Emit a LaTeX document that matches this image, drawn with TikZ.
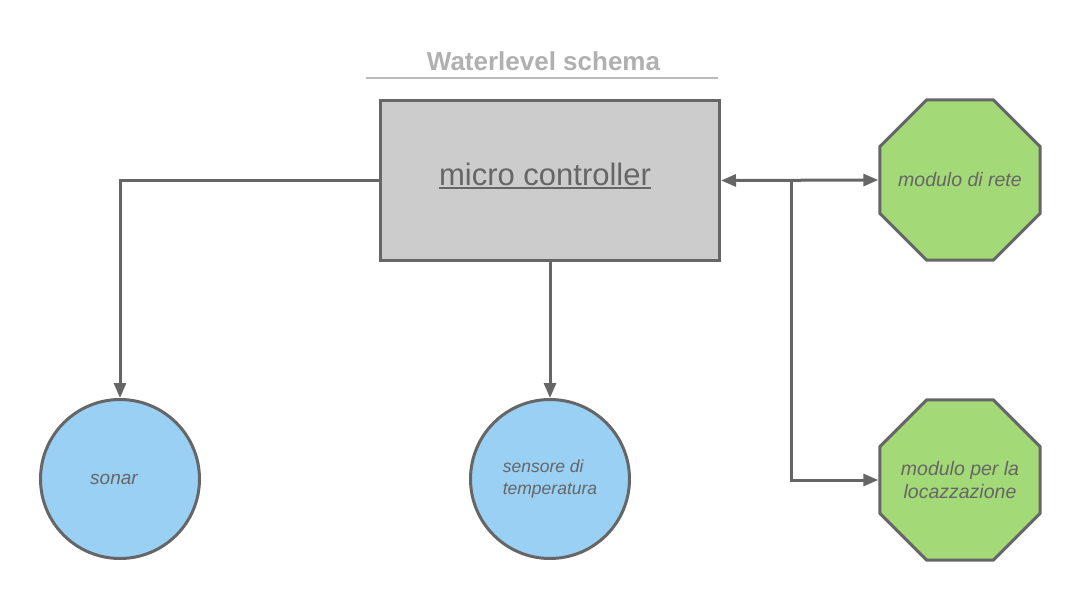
\documentclass[tikz,border=0pt]{standalone}
\usepackage{fontspec}
\setmainfont{Liberation Sans}
\usetikzlibrary{arrows.meta,shapes.geometric}
\definecolor{strokegray}{HTML}{666666}
\definecolor{titlegray}{HTML}{B0B0B0}
\definecolor{boxgray}{HTML}{CCCCCC}
\definecolor{blueish}{HTML}{99D0F3}
\definecolor{greenish}{HTML}{A3D977}
\newcommand\myul[1]{\setbox0\hbox{#1}\rlap{\rule[-3pt]{\wd0}{1.7pt}}\box0}
\newcommand\myoctagon[1]{\draw[octline] (#1) ++(-33.2,-80.2) -- ++(66.4,0) -- ++(47,47) -- ++(0,66.4) -- ++(-47,47) -- ++(-66.4,0) -- ++(-47,-47) -- ++(0,-66.4) -- cycle;}
\tikzset{
  shapeline/.style={draw=strokegray, line width=3pt, text=strokegray, inner sep=0pt},
  ctrlbox/.style={shapeline, rectangle, fill=boxgray, minimum width=339pt, minimum height=160pt},
  sensorc/.style={shapeline, circle, fill=blueish, minimum size=159pt, font=\itshape\fontsize{19}{22}\selectfont},
  octline/.style={draw=strokegray, line width=3pt, fill=greenish, line join=miter},
  modoct/.style={rectangle, inner sep=0pt, minimum size=163pt, text=strokegray, font=\itshape\fontsize{19.5}{23}\selectfont, align=center},
  conn/.style={draw=strokegray, line width=3pt, -{Triangle[length=15pt,width=12pt]}},
  conn2/.style={draw=strokegray, line width=3pt, {Triangle[length=15pt,width=12pt]}-{Triangle[length=15pt,width=12pt]}},
}
\begin{document}
\begin{tikzpicture}[x=1pt,y=-1pt]
\useasboundingbox (0,0) rectangle (1080,600);
\node[font=\bfseries\fontsize{26}{30}\selectfont, text=titlegray] (title) at (543.5,61) {Waterlevel schema};
\draw[draw=titlegray!85, line width=2.8pt] (366,78) -- (718,78);
\node[ctrlbox, font=\fontsize{31}{36}\selectfont] (mc) at (550,180.5) {\hspace*{-10pt}\raisebox{12pt}{\myul{micro controller}}};
\node[sensorc] (sonar) at (120,479) {\hspace*{-12pt}sonar};
\node[sensorc, align=left, font=\itshape\fontsize{17.5}{22}\selectfont] (temp) at (550,479) {sensore di\\temperatura};
\coordinate (netc) at (960,180);
\coordinate (locc) at (960,480);
\myoctagon{netc}
\myoctagon{locc}
\node[modoct] (net) at (netc) {modulo di rete};
\node[modoct] (loc) at (locc) {modulo per la\\locazzazione};
\coordinate (j) at (791,180.5);
\draw[conn] (mc.west) -| (sonar.north);
\draw[conn] (mc.south) -- (temp.north);
\draw[conn2] (mc.east) -- (net.west);
\draw[conn] (j) |- (loc.west);
\end{tikzpicture}
\end{document}
